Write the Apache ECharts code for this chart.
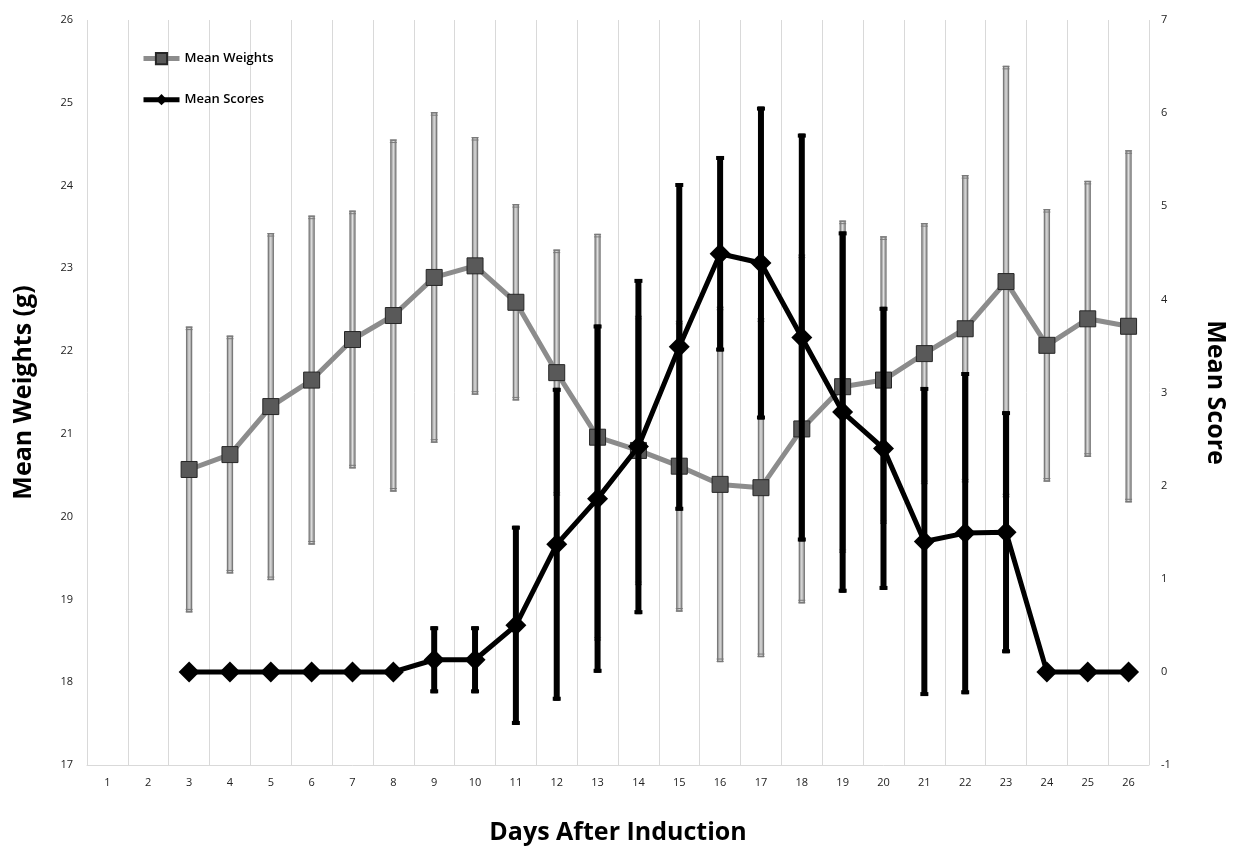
<!DOCTYPE html>
<html>
<head>
<meta charset="utf-8">
<script src="https://cdn.jsdelivr.net/npm/echarts@6/dist/echarts.min.js"></script>
<style>
html,body{margin:0;padding:0;background:#fff;}
#chart{width:1238px;height:850px;}
</style>
</head>
<body>
<div id="chart"></div>
<script>
// ---- data ----
const days = ['1','2','3','4','5','6','7','8','9','10','11','12','13','14','15','16','17','18','19','20','21','22','23','24','25','26'];
const weightMeans = [null,null,20.57,20.75,21.33,21.65,22.14,22.43,22.89,23.03,22.59,21.74,20.96,20.80,20.61,20.39,20.35,21.06,21.57,21.65,21.97,22.27,22.84,22.07,22.39,22.30];
const weightErr   = [null,null,1.72,1.43,2.09,1.98,1.55,2.12,1.99,1.55,1.18,1.48,2.45,1.62,1.75,2.14,2.04,2.10,2.00,1.73,1.57,1.85,2.60,1.64,1.66,2.12];
const scoreMeans  = [null,null,0,0,0,0,0,0,0.13,0.13,0.50,1.37,1.86,2.42,3.49,4.49,4.39,3.59,2.79,2.40,1.40,1.49,1.50,0,0,0];
const scoreErr    = [null,null,0,0,0,0,0,0,0.36,0.36,1.07,1.68,1.87,1.80,1.76,1.05,1.68,2.19,1.94,1.52,1.66,1.73,1.30,0,0,0];
const leftTicks = {min:17, max:26, interval:1};
const rightTicks = {min:-1, max:7, interval:1};

function errData(means, errs){
  const out = [];
  means.forEach((m,i)=>{
    if(m !== null && errs[i]) out.push([i, m - errs[i], m + errs[i]]);
  });
  return out;
}

const FONT = '"Open Sans", "Noto Sans", sans-serif';

function weightErrRender(params, api){
  const x = api.value(0);
  const top = api.coord([x, api.value(2)]);
  const bot = api.coord([x, api.value(1)]);
  const cx = top[0];
  const c = '#7a7a7a';
  return {type:'group', children:[
    {type:'rect', shape:{x:cx-2.5, y:top[1], width:5, height:bot[1]-top[1]},
      style:{fill:'#b5b5b5', stroke:c, lineWidth:1.3}},
    {type:'line', shape:{x1:cx,y1:top[1]+1,x2:cx,y2:bot[1]-1}, style:{stroke:'#e0e0e0',lineWidth:1}},
    {type:'line', shape:{x1:cx-3.5,y1:top[1],x2:cx+3.5,y2:top[1]}, style:{stroke:c,lineWidth:1}},
    {type:'line', shape:{x1:cx-3.5,y1:top[1]+2.5,x2:cx+3.5,y2:top[1]+2.5}, style:{stroke:c,lineWidth:1}},
    {type:'line', shape:{x1:cx-3.5,y1:bot[1],x2:cx+3.5,y2:bot[1]}, style:{stroke:c,lineWidth:1}},
    {type:'line', shape:{x1:cx-3.5,y1:bot[1]-2.5,x2:cx+3.5,y2:bot[1]-2.5}, style:{stroke:c,lineWidth:1}}
  ]};
}
function scoreErrRender(params, api){
  const x = api.value(0);
  const top = api.coord([x, api.value(2)]);
  const bot = api.coord([x, api.value(1)]);
  const cx = top[0];
  return {type:'group', children:[
    {type:'rect', shape:{x:cx-3, y:top[1], width:6, height:bot[1]-top[1]}, style:{fill:'#000'}},
    {type:'rect', shape:{x:cx-4, y:top[1], width:8, height:4}, style:{fill:'#000'}},
    {type:'rect', shape:{x:cx-4, y:bot[1]-4, width:8, height:4}, style:{fill:'#000'}}
  ]};
}

const chart = echarts.init(document.getElementById('chart'), null, {renderer:'canvas'});
chart.setOption({
  backgroundColor:'#fff',
  animation:false,
  textStyle:{fontFamily:FONT},
  grid:{left:87, right:89, top:20, bottom:85, containLabel:false},
  legend:{
    orient:'vertical', left:136, top:47, itemGap:28, itemWidth:36, itemHeight:14,
    lineStyle:{width:5},
    textStyle:{fontFamily:FONT, fontSize:13, fontWeight:600, color:'#000'},
    data:['Mean Weights','Mean Scores']
  },
  xAxis:{
    type:'category', data:days, boundaryGap:true,
    name:'Days After Induction', nameLocation:'middle', nameGap:55,
    nameTextStyle:{fontFamily:FONT, fontSize:25, fontWeight:'bold', color:'#000'},
    axisLine:{show:true, onZero:false, lineStyle:{color:'#d9d9d9', width:1}},
    axisTick:{show:false},
    axisLabel:{fontSize:11, color:'#222', margin:12, interval:0},
    splitLine:{show:true, lineStyle:{color:'#d9d9d9', width:1}}
  },
  yAxis:[{
    type:'value', min:leftTicks.min, max:leftTicks.max, interval:leftTicks.interval,
    name:'Mean Weights (g)', nameLocation:'middle', nameGap:51, nameRotate:90,
    nameTextStyle:{fontFamily:FONT, fontSize:25, fontWeight:'bold', color:'#000'},
    axisLine:{show:false}, axisTick:{show:false}, splitLine:{show:false},
    axisLabel:{fontSize:11, color:'#222', margin:14}
  },{
    type:'value', min:rightTicks.min, max:rightTicks.max, interval:rightTicks.interval,
    position:'right',
    name:'Mean Score', nameLocation:'middle', nameGap:54, nameRotate:-90,
    nameTextStyle:{fontFamily:FONT, fontSize:25, fontWeight:'bold', color:'#000'},
    axisLine:{show:false}, axisTick:{show:false}, splitLine:{show:false},
    axisLabel:{fontSize:11, color:'#222', margin:12}
  }],
  series:[
    {type:'custom', name:'wErr', yAxisIndex:0, renderItem:weightErrRender,
      data:errData(weightMeans, weightErr), z:1, silent:true},
    {type:'line', name:'Mean Weights', yAxisIndex:0, data:weightMeans,
      symbol:'rect', symbolSize:16, showAllSymbol:true, connectNulls:false,
      lineStyle:{color:'#8c8c8c', width:5},
      itemStyle:{color:'#595959', borderColor:'#262626', borderWidth:1},
      z:2},
    {type:'custom', name:'sErr', yAxisIndex:1, renderItem:scoreErrRender,
      data:errData(scoreMeans, scoreErr), z:3, silent:true},
    {type:'line', name:'Mean Scores', yAxisIndex:1, data:scoreMeans,
      symbol:'diamond', symbolSize:21, showAllSymbol:true,
      lineStyle:{color:'#000', width:5},
      itemStyle:{color:'#000'},
      z:4}
  ]
});
</script>
</body>
</html>
